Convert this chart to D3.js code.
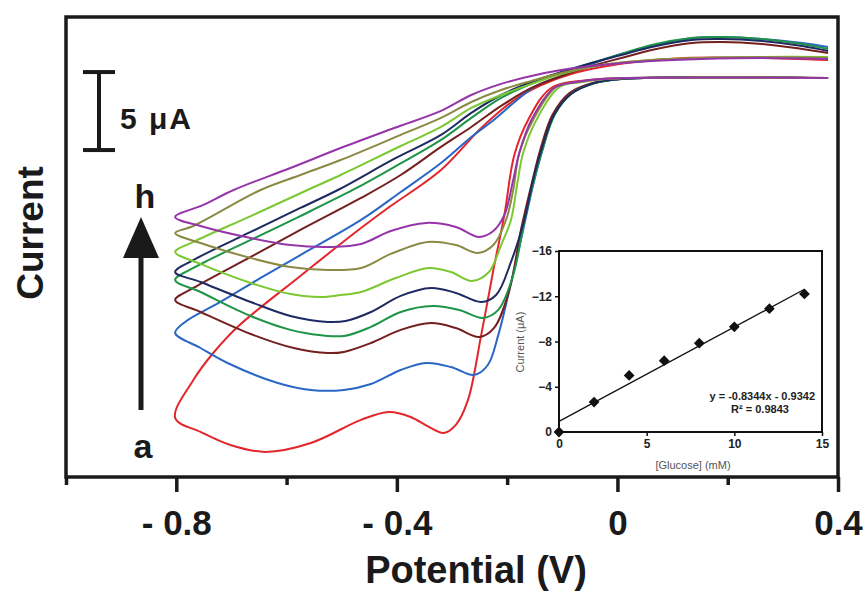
<!DOCTYPE html>
<html>
<head>
<meta charset="utf-8">
<script src="https://cdn.jsdelivr.net/npm/d3@7"></script>
<style>
  body { margin: 0; background: #fff; }
  svg { display: block; font-family: "Liberation Sans", Arial, sans-serif; font-weight: bold; }
</style>
</head>
<body>
<div id="chart"></div>
<script>
////////////////////////////////// DATA //////////////////////////////////
// cyclic voltammograms, [potential (V), current (uA)]
var cvA = [[0.382,1.15],[0.262,1.28],[0.122,1.28],[0.031,1.03],[-0.029,0.71],[-0.084,0.26],[-0.138,-0.45],[-0.187,-1.41],[-0.247,-3.21],[-0.320,-5.90],[-0.416,-8.33],[-0.465,-9.62],[-0.575,-12.69],[-0.689,-15.96],[-0.733,-17.63],[-0.769,-19.36],[-0.802,-21.79],
  [-0.756,-22.69],[-0.702,-23.53],[-0.638,-23.97],[-0.556,-23.40],[-0.465,-21.92],[-0.415,-21.41],[-0.375,-21.73],[-0.342,-22.37],[-0.315,-22.76],[-0.293,-22.24],[-0.271,-20.64],[-0.247,-16.47],[-0.225,-12.31],[-0.205,-8.78],[-0.187,-4.94],[-0.162,-2.69],[-0.120,-0.64],[-0.053,-0.13],[0.007,0],[0.382,0]];
var cvB = [[0.382,1.99],[0.335,2.24],[0.262,2.50],[0.189,2.63],[0.135,2.56],[0.062,2.05],[0.007,1.54],[-0.047,0.90],[-0.102,0.13],[-0.151,-0.58],[-0.229,-2.82],[-0.265,-3.78],[-0.320,-5.45],[-0.393,-7.31],[-0.465,-9.10],[-0.575,-11.35],[-0.647,-12.82],[-0.720,-14.36],[-0.784,-15.64],[-0.802,-16.35],
  [-0.756,-17.31],[-0.707,-18.27],[-0.616,-19.55],[-0.556,-20.00],[-0.496,-20.00],[-0.447,-19.62],[-0.393,-18.72],[-0.347,-18.27],[-0.302,-18.53],[-0.260,-19.04],[-0.235,-18.40],[-0.216,-16.47],[-0.193,-13.14],[-0.171,-9.74],[-0.153,-6.86],[-0.136,-4.62],[-0.115,-2.31],[-0.084,-0.96],[-0.042,-0.32],[0.007,-0.06],[0.382,0]];
var cvC = [[0.382,1.60],[0.335,1.86],[0.262,2.18],[0.189,2.31],[0.135,2.24],[0.062,1.79],[0.007,1.28],[-0.047,0.77],[-0.102,0.13],[-0.156,-0.64],[-0.211,-1.79],[-0.265,-3.14],[-0.320,-4.42],[-0.393,-6.22],[-0.465,-7.69],[-0.575,-9.74],[-0.665,-11.47],[-0.769,-13.46],[-0.802,-14.23],
  [-0.756,-15.00],[-0.665,-16.41],[-0.587,-17.31],[-0.525,-17.63],[-0.496,-17.56],[-0.447,-16.99],[-0.393,-16.15],[-0.338,-15.71],[-0.293,-16.03],[-0.251,-16.60],[-0.224,-16.03],[-0.196,-13.59],[-0.175,-9.74],[-0.156,-6.86],[-0.140,-4.62],[-0.118,-2.37],[-0.087,-0.96],[-0.045,-0.32],[0.004,-0.06],[0.382,0]];
var cvD = [[0.382,1.86],[0.335,2.18],[0.262,2.50],[0.189,2.63],[0.135,2.56],[0.062,2.12],[0.007,1.54],[-0.047,0.96],[-0.102,0.32],[-0.156,-0.38],[-0.211,-1.28],[-0.265,-2.56],[-0.320,-3.97],[-0.405,-5.71],[-0.480,-7.18],[-0.575,-8.85],[-0.665,-10.38],[-0.769,-12.18],[-0.802,-12.95],
  [-0.756,-13.72],[-0.665,-15.26],[-0.593,-16.15],[-0.556,-16.41],[-0.496,-16.54],[-0.447,-15.96],[-0.393,-15.00],[-0.335,-14.62],[-0.287,-14.87],[-0.244,-15.38],[-0.216,-14.87],[-0.189,-12.63],[-0.169,-9.23],[-0.151,-6.54],[-0.136,-4.62],[-0.113,-2.31],[-0.082,-0.96],[-0.040,-0.32],[0.007,-0.06],[0.382,0]];
var cvE = [[0.382,1.73],[0.335,2.05],[0.262,2.37],[0.189,2.50],[0.135,2.44],[0.062,1.99],[0.007,1.47],[-0.047,0.96],[-0.102,0.38],[-0.156,-0.26],[-0.211,-1.09],[-0.265,-2.24],[-0.320,-3.65],[-0.405,-5.19],[-0.507,-7.18],[-0.575,-8.33],[-0.665,-9.87],[-0.769,-11.67],[-0.802,-12.44],
  [-0.756,-13.08],[-0.665,-14.36],[-0.593,-15.26],[-0.525,-15.64],[-0.493,-15.58],[-0.447,-15.00],[-0.393,-13.97],[-0.338,-13.46],[-0.293,-13.78],[-0.247,-14.36],[-0.220,-13.91],[-0.193,-11.79],[-0.169,-9.10],[-0.153,-6.54],[-0.138,-4.62],[-0.115,-2.37],[-0.084,-1.03],[-0.042,-0.32],[0.007,-0.06],[0.382,0]];
var cvF = [[0.382,1.35],[0.262,1.35],[0.153,1.28],[0.062,1.15],[-0.029,0.83],[-0.102,0.26],[-0.156,-0.38],[-0.211,-1.09],[-0.265,-1.92],[-0.320,-3.14],[-0.393,-4.36],[-0.502,-6.22],[-0.562,-7.18],[-0.665,-8.85],[-0.769,-10.51],[-0.802,-11.15],
  [-0.756,-11.92],[-0.665,-13.14],[-0.593,-13.85],[-0.538,-14.04],[-0.502,-13.91],[-0.465,-13.72],[-0.402,-12.82],[-0.342,-12.18],[-0.302,-12.44],[-0.264,-13.01],[-0.233,-12.44],[-0.211,-10.71],[-0.193,-9.10],[-0.182,-6.86],[-0.171,-4.81],[-0.147,-2.69],[-0.105,-0.58],[-0.065,-0.26],[-0.020,-0.06],[0.382,0]];
var cvG = [[0.382,1.28],[0.262,1.35],[0.153,1.28],[0.062,1.15],[-0.029,0.83],[-0.102,0.32],[-0.156,-0.19],[-0.211,-0.77],[-0.265,-1.54],[-0.320,-2.56],[-0.393,-3.65],[-0.502,-5.26],[-0.575,-6.22],[-0.647,-7.18],[-0.769,-9.49],[-0.802,-9.94],
  [-0.756,-10.58],[-0.665,-11.54],[-0.593,-12.12],[-0.525,-12.31],[-0.465,-12.18],[-0.411,-11.28],[-0.344,-10.51],[-0.293,-10.71],[-0.253,-11.22],[-0.225,-10.71],[-0.202,-9.10],[-0.189,-7.18],[-0.178,-4.81],[-0.153,-2.69],[-0.111,-0.58],[-0.071,-0.26],[-0.025,-0.06],[0.382,0]];
var cvH = [[0.382,1.22],[0.262,1.28],[0.153,1.22],[0.062,1.09],[-0.029,0.83],[-0.102,0.51],[-0.156,0.13],[-0.211,-0.38],[-0.265,-1.09],[-0.320,-2.11],[-0.405,-3.21],[-0.502,-4.49],[-0.593,-5.77],[-0.696,-7.18],[-0.751,-8.14],[-0.802,-8.91],
  [-0.756,-9.49],[-0.665,-10.26],[-0.593,-10.71],[-0.520,-10.83],[-0.465,-10.64],[-0.411,-9.81],[-0.347,-9.29],[-0.293,-9.55],[-0.251,-10.19],[-0.225,-9.81],[-0.205,-8.78],[-0.189,-6.54],[-0.178,-4.81],[-0.156,-2.69],[-0.115,-0.64],[-0.075,-0.26],[-0.029,-0.06],[0.382,0]];

var curves = [cvA, cvB, cvC, cvD, cvE, cvF, cvG, cvH];
var curveColors = ["#e3262b", "#2a66c4", "#74201f", "#1e9446", "#1f2a63", "#7cc832", "#8b8a45", "#9535a8"];

var potentialMajor = [-0.8, -0.4, 0, 0.4];
var potentialMinor = [-1.0, -0.6, -0.2, 0.2];
var scaleBarTop = 0.38;   // uA, top end of the 5 uA bar
var scaleBarSize = 5;

// inset: calibration
var glucose = [0, 2, 4, 6, 8, 10, 12, 14];
var glucoseCurrent = [0, -2.65, -5.0, -6.3, -7.85, -9.3, -10.9, -12.2];
var fitSlope = -0.8344;
var fitIntercept = -0.9342;
var insetXTicks = [0, 5, 10, 15];
var insetYTicks = [0, -4, -8, -12, -16];

////////////////////////////////// D3 //////////////////////////////////
var width = 868;
var height = 594;

var svg = d3.select('#chart')
  .append('svg')
  .attr('width', width)
  .attr('height', height);

// main scales
var x = d3.scaleLinear().domain([-1.0, 0.4]).range([66, 838]);
var y = d3.scaleLinear().domain([-25.58, 3.91]).range([477, 17]);

var line = d3.line()
  .x(function(d) { return x(d[0]); })
  .y(function(d) { return y(d[1]); })
  .curve(d3.curveCatmullRom.alpha(0.5));

svg.append('g')
  .selectAll('path')
  .data(curves)
  .enter()
  .append('path')
  .attr('d', line)
  .attr('fill', 'none')
  .attr('stroke', function(d, i) { return curveColors[i]; })
  .attr('stroke-width', 2)
  .attr('stroke-linejoin', 'round');

// axis ticks
var minorAxis = d3.axisBottom(x).tickValues(potentialMinor).tickSize(8).tickFormat('');
var majorAxis = d3.axisBottom(x).tickValues(potentialMajor).tickSize(15).tickPadding(18)
  .tickFormat(function(d) { return d < 0 ? '- ' + Math.abs(d) : d; });

[minorAxis, majorAxis].forEach(function(ax) {
  var g = svg.append('g').attr('transform', 'translate(0,477)').call(ax);
  g.select('.domain').remove();
  g.selectAll('line').attr('stroke', '#1a1a1a').attr('stroke-width', 3.5);
  g.selectAll('text')
    .attr('fill', '#1a1a1a')
    .style('font-size', '35px')
    .style('font-weight', 'bold')
    .style('font-family', '"Liberation Sans", Arial, sans-serif');
});

// frame
svg.append('rect')
  .attr('x', 66).attr('y', 17)
  .attr('width', 772).attr('height', 460)
  .attr('fill', 'none')
  .attr('stroke', '#1a1a1a')
  .attr('stroke-width', 3.5);

// axis titles
svg.append('text')
  .attr('x', 476).attr('y', 583)
  .attr('text-anchor', 'middle')
  .attr('fill', '#1a1a1a')
  .style('font-size', '38px')
  .text('Potential (V)');

svg.append('text')
  .attr('transform', 'translate(43,233) rotate(-90)')
  .attr('text-anchor', 'middle')
  .attr('fill', '#1a1a1a')
  .style('font-size', '37px')
  .text('Current');

// scale bar
var barX = 99;
var yTop = y(scaleBarTop), yBot = y(scaleBarTop - scaleBarSize);
var bar = svg.append('g').attr('stroke', '#1a1a1a').attr('stroke-width', 4);
bar.append('line').attr('x1', barX).attr('x2', barX).attr('y1', yTop).attr('y2', yBot);
bar.append('line').attr('x1', barX - 16).attr('x2', barX + 16).attr('y1', yTop).attr('y2', yTop);
bar.append('line').attr('x1', barX - 16).attr('x2', barX + 16).attr('y1', yBot).attr('y2', yBot);
svg.append('text')
  .attr('x', 120).attr('y', 129)
  .attr('fill', '#1a1a1a')
  .style('font-size', '30px')
  .style('letter-spacing', '2px')
  .text('5 μA');

// arrow a -> h
svg.append('line')
  .attr('x1', 141).attr('x2', 141).attr('y1', 410).attr('y2', 250)
  .attr('stroke', '#1a1a1a').attr('stroke-width', 5);
svg.append('path')
  .attr('d', 'M141,217 L159,258 L123,258 Z')
  .attr('fill', '#1a1a1a');
svg.append('text').attr('x', 145).attr('y', 208).attr('text-anchor', 'middle')
  .attr('fill', '#1a1a1a').style('font-size', '34px').text('h');
svg.append('text').attr('x', 143).attr('y', 458).attr('text-anchor', 'middle')
  .attr('fill', '#1a1a1a').style('font-size', '34px').text('a');

////////////////////////////////// INSET //////////////////////////////////
var ix = d3.scaleLinear().domain([0, 15]).range([559, 822]);
var iy = d3.scaleLinear().domain([0, -16]).range([432, 251]);

svg.append('rect')
  .attr('x', 559).attr('y', 251)
  .attr('width', 263).attr('height', 181)
  .attr('fill', '#fff');

var iyAxis = svg.append('g').attr('transform', 'translate(559,0)')
  .call(d3.axisLeft(iy).tickValues(insetYTicks).tickSize(4).tickPadding(3));
var ixAxis = svg.append('g').attr('transform', 'translate(0,432)')
  .call(d3.axisBottom(ix).tickValues(insetXTicks).tickSize(4).tickPadding(3));
[iyAxis, ixAxis].forEach(function(g) {
  g.select('.domain').remove();
  g.selectAll('line').attr('stroke', '#111').attr('stroke-width', 1.5);
  g.selectAll('text')
    .attr('fill', '#222')
    .style('font-size', '12px')
    .style('font-weight', 'bold')
    .style('font-family', '"Liberation Sans", Arial, sans-serif');
});

// fit line
svg.append('line')
  .attr('x1', ix(0)).attr('y1', iy(fitIntercept))
  .attr('x2', ix(14)).attr('y2', iy(fitSlope * 14 + fitIntercept))
  .attr('stroke', '#111').attr('stroke-width', 1.3);

svg.append('g')
  .selectAll('path')
  .data(glucose)
  .enter()
  .append('path')
  .attr('d', d3.symbol().type(d3.symbolSquare).size(58))
  .attr('transform', function(d, i) {
    return 'translate(' + ix(d) + ',' + iy(glucoseCurrent[i]) + ') rotate(45)';
  })
  .attr('fill', '#111');

svg.append('rect')
  .attr('x', 559).attr('y', 251)
  .attr('width', 263).attr('height', 181)
  .attr('fill', 'none')
  .attr('stroke', '#111')
  .attr('stroke-width', 2);

svg.append('text')
  .attr('x', 815).attr('y', 400)
  .attr('text-anchor', 'end')
  .attr('fill', '#222')
  .style('font-size', '11px')
  .text('y = -0.8344x - 0.9342');
svg.append('text')
  .attr('x', 760).attr('y', 413)
  .attr('text-anchor', 'middle')
  .attr('fill', '#222')
  .style('font-size', '11px')
  .text('R² = 0.9843');

svg.append('text')
  .attr('x', 693).attr('y', 469)
  .attr('text-anchor', 'middle')
  .attr('fill', '#555')
  .style('font-size', '11px')
  .style('font-weight', 'normal')
  .text('[Glucose] (mM)');
svg.append('text')
  .attr('transform', 'translate(524,342) rotate(-90)')
  .attr('text-anchor', 'middle')
  .attr('fill', '#555')
  .style('font-size', '11px')
  .style('font-weight', 'normal')
  .text('Current (μA)');
</script>
</body>
</html>
